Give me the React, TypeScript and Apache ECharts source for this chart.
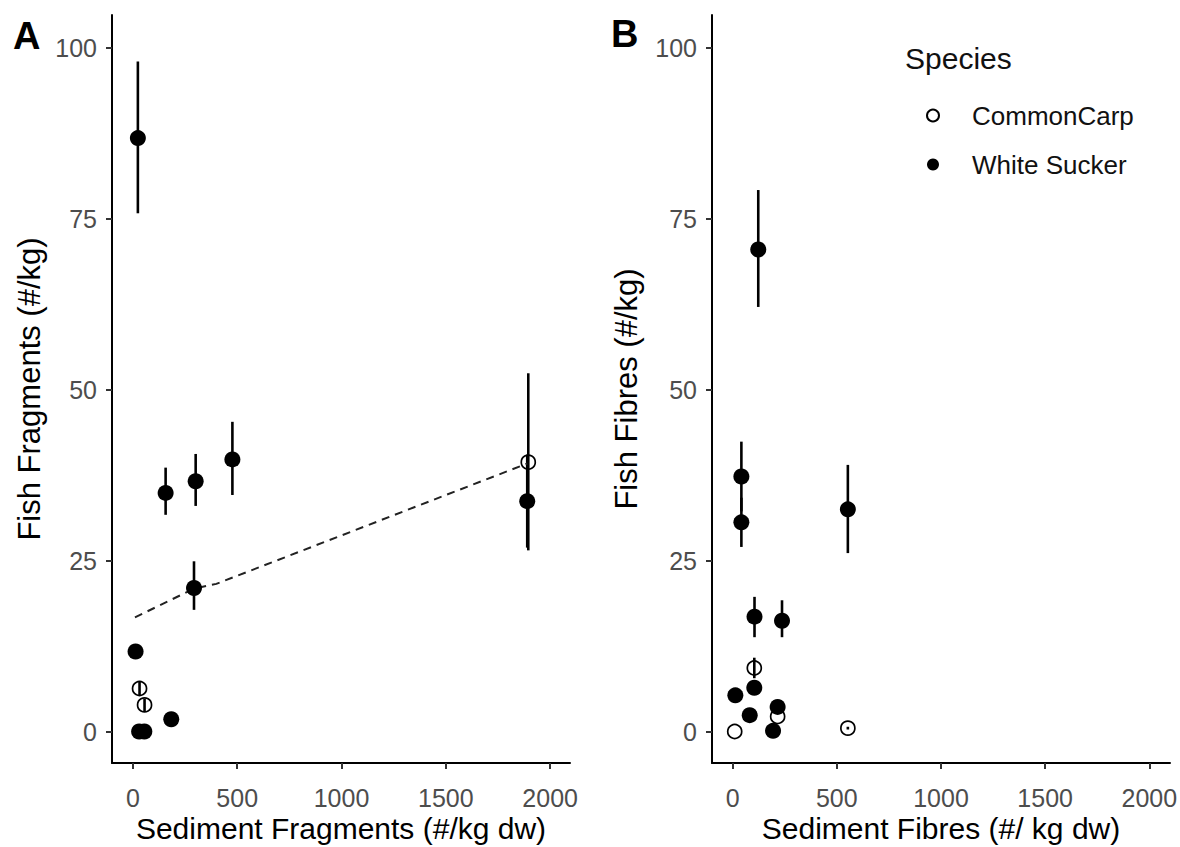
import React, { useEffect, useRef } from "react";
import * as echarts from "echarts";

const FONT = "'Liberation Sans', Arial, Helvetica, sans-serif";

const xTicks = [0, 500, 1000, 1500, 2000];
const yTicks = [0, 25, 50, 75, 100];

// Panel A: fragments
const fragCarpX = [32, 56, 1895];
const fragCarpY = [6.3, 3.9, 39.4];
const fragCarpLo = [5.3, 3.0, 26.5];
const fragCarpHi = [7.3, 4.8, 52.4];

const fragSuckerX = [24, 157, 301, 477, 293, 13, 184, 30, 55, 1890];
const fragSuckerY = [86.8, 34.9, 36.6, 39.8, 21.0, 11.7, 1.8, 0, 0, 33.7];
const fragSuckerLo = [75.8, 31.7, 33.0, 34.6, 17.8, 11.7, 1.8, 0, 0, 26.9];
const fragSuckerHi = [98.0, 38.6, 40.6, 45.3, 24.9, 11.7, 1.8, 0, 0, 40.5];

const fitX = [10, 293, 400, 1890];
const fitY = [16.7, 20.9, 21.6, 39.2];

// Panel B: fibres
const fibreCarpX = [104, 216, 10, 553];
const fibreCarpY = [9.3, 2.2, 0, 0.5];
const fibreCarpLo = [7.8, 2.2, 0, 0.3];
const fibreCarpHi = [10.8, 2.2, 0, 0.7];

const fibreSuckerX = [123, 42, 42, 553, 105, 237, 104, 13, 82, 216, 194];
const fibreSuckerY = [70.5, 37.3, 30.6, 32.5, 16.8, 16.2, 6.4, 5.3, 2.4, 3.6, 0.1];
const fibreSuckerLo = [62.1, 32.2, 27.0, 26.1, 13.8, 13.8, 6.4, 5.3, 2.4, 3.6, 0.1];
const fibreSuckerHi = [79.2, 42.4, 34.2, 39.0, 19.7, 19.2, 6.4, 5.3, 2.4, 3.6, 0.1];

const zip = (a: number[], b: number[]) => a.map((v, i) => [v, b[i]]);
const bars = (x: number[], lo: number[], hi: number[]) =>
  x.map((v, i) => [v, lo[i], hi[i]]).filter((d) => d[2] > d[1]);

const plain = (v: number) => String(v);

const xAxisCfg = (gridIndex: number, name: string, min: number, max: number) => ({
  type: "value",
  gridIndex,
  min,
  max,
  name,
  nameLocation: "middle",
  nameGap: 50,
  nameMoveOverlap: false,
  nameTextStyle: { fontFamily: FONT, fontSize: 30, color: "#000" },
  axisLine: { show: true, onZero: false, lineStyle: { color: "#000", width: 2 } },
  axisTick: { show: true, length: 6, inside: false, customValues: xTicks, lineStyle: { color: "#333", width: 2 } },
  axisLabel: { customValues: xTicks, formatter: plain, margin: 22, fontFamily: FONT, fontSize: 25, color: "#4d4d4d" },
  splitLine: { show: false },
});

const yAxisCfg = (gridIndex: number, name: string, gap: number) => ({
  type: "value",
  gridIndex,
  min: -4.6,
  max: 104.8,
  name,
  nameLocation: "middle",
  nameGap: gap,
  nameMoveOverlap: false,
  nameTextStyle: { fontFamily: FONT, fontSize: 31, color: "#000" },
  axisLine: { show: true, onZero: false, lineStyle: { color: "#000", width: 2 } },
  axisTick: { show: true, length: 6, inside: false, customValues: yTicks, lineStyle: { color: "#333", width: 2 } },
  axisLabel: { customValues: yTicks, formatter: plain, margin: 15, fontFamily: FONT, fontSize: 25, color: "#4d4d4d" },
  splitLine: { show: false },
});

const renderBar = (params: any, api: any) => {
  const x = api.value(0);
  const p1 = api.coord([x, api.value(1)]);
  const p2 = api.coord([x, api.value(2)]);
  return {
    type: "line",
    shape: { x1: p1[0], y1: p1[1], x2: p2[0], y2: p2[1] },
    style: { stroke: "#000", lineWidth: 2.6 },
  };
};

const openStyle = { color: "rgba(0,0,0,0)", borderColor: "#000", borderWidth: 1.7, opacity: 1 };
const filledStyle = { color: "#000", opacity: 1 };

export default function App() {
  const ref = useRef<HTMLDivElement>(null);
  useEffect(() => {
    document.body.style.margin = "0";
    const chart = echarts.init(ref.current!, null, { renderer: "svg" });
    chart.setOption({
      animation: false,
      backgroundColor: "#fff",
      grid: [
        { left: 112, top: 15, width: 458, height: 748, containLabel: false, outerBoundsMode: "none" },
        { left: 712, top: 15, width: 458, height: 748, containLabel: false, outerBoundsMode: "none" },
      ],
      xAxis: [
        xAxisCfg(0, "Sediment Fragments (#/kg dw)", -100, 2095),
        xAxisCfg(1, "Sediment Fibres (#/ kg dw)", -99, 2099),
      ],
      yAxis: [yAxisCfg(0, "Fish Fragments (#/kg)", 67), yAxisCfg(1, "Fish Fibres (#/kg)", 70)],
      legend: {
        data: ["CommonCarp", "White Sucker"],
        orient: "vertical",
        left: 926,
        top: 102.5,
        itemWidth: 68,
        itemHeight: 12,
        itemGap: 23,
        padding: 0,
        selectedMode: false,
        textStyle: { fontFamily: FONT, fontSize: 26, color: "#111" },
      },
      graphic: [
        { type: "text", left: 13, top: 17, style: { text: "A", font: `bold 38px ${FONT}`, fill: "#000" } },
        { type: "text", left: 611, top: 15, style: { text: "B", font: `bold 38px ${FONT}`, fill: "#000" } },
        { type: "text", left: 905, top: 43, style: { text: "Species", font: `30px ${FONT}`, fill: "#111" } },
      ],
      series: [
        {
          type: "custom",
          xAxisIndex: 0,
          yAxisIndex: 0,
          silent: true,
          z: 1,
          encode: { x: 0, y: [1, 2] },
          data: [...bars(fragCarpX, fragCarpLo, fragCarpHi), ...bars(fragSuckerX, fragSuckerLo, fragSuckerHi)],
          renderItem: renderBar,
        },
        {
          type: "custom",
          xAxisIndex: 1,
          yAxisIndex: 1,
          silent: true,
          z: 1,
          encode: { x: 0, y: [1, 2] },
          data: [...bars(fibreCarpX, fibreCarpLo, fibreCarpHi), ...bars(fibreSuckerX, fibreSuckerLo, fibreSuckerHi)],
          renderItem: renderBar,
        },
        {
          type: "line",
          xAxisIndex: 0,
          yAxisIndex: 0,
          silent: true,
          z: 2,
          symbol: "none",
          data: zip(fitX, fitY),
          lineStyle: { type: [8, 6], color: "#222", width: 2 },
        },
        {
          type: "scatter",
          name: "CommonCarp",
          xAxisIndex: 0,
          yAxisIndex: 0,
          z: 3,
          symbol: "circle",
          symbolSize: 14,
          itemStyle: openStyle,
          data: zip(fragCarpX, fragCarpY),
        },
        {
          type: "scatter",
          name: "White Sucker",
          xAxisIndex: 0,
          yAxisIndex: 0,
          z: 3,
          symbol: "circle",
          symbolSize: 16,
          itemStyle: filledStyle,
          data: zip(fragSuckerX, fragSuckerY),
        },
        {
          type: "scatter",
          name: "CommonCarp",
          xAxisIndex: 1,
          yAxisIndex: 1,
          z: 3,
          symbol: "circle",
          symbolSize: 14,
          itemStyle: openStyle,
          data: zip(fibreCarpX, fibreCarpY),
        },
        {
          type: "scatter",
          name: "White Sucker",
          xAxisIndex: 1,
          yAxisIndex: 1,
          z: 3,
          symbol: "circle",
          symbolSize: 16,
          itemStyle: filledStyle,
          data: zip(fibreSuckerX, fibreSuckerY),
        },
      ],
    });
    return () => chart.dispose();
  }, []);
  return <div ref={ref} style={{ width: 1180, height: 847 }} />;
}
